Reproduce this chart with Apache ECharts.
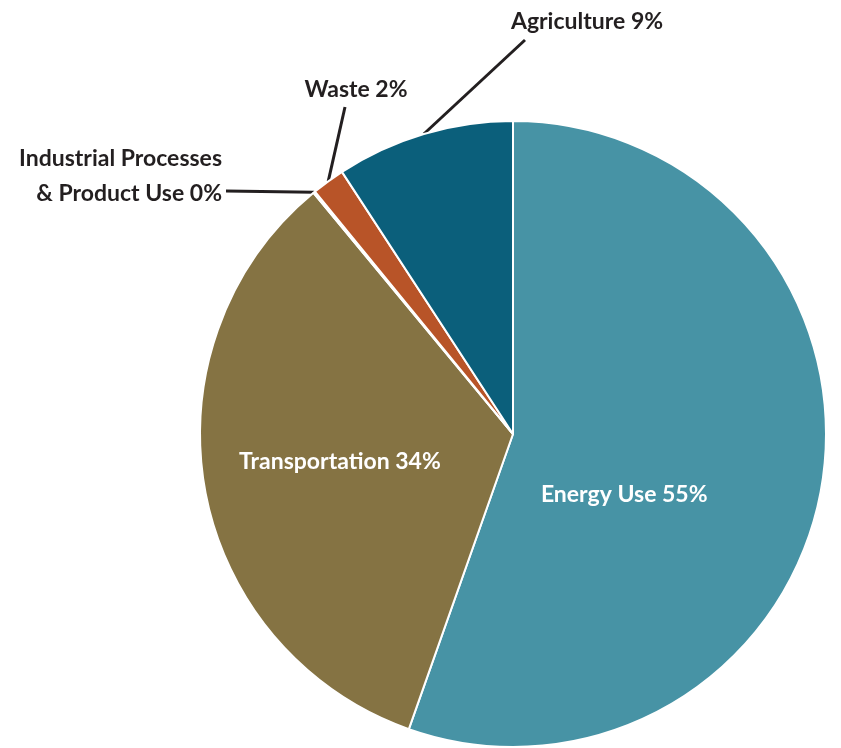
<!DOCTYPE html>
<html>
<head>
<meta charset="utf-8">
<script src="https://cdn.jsdelivr.net/npm/echarts@6/dist/echarts.min.js"></script>
<style>
  html, body { margin: 0; padding: 0; background: #fff; }
  #main { width: 841px; height: 748px; }
</style>
</head>
<body>
<div id="main"></div>
<script>
// sectors, clockwise from 12 o'clock
const categories = ['Energy Use', 'Transportation', 'Industrial Processes\n& Product Use', 'Waste', 'Agriculture'];
const shares = [55.4, 33.6, 0.1, 1.7, 9.2];
const colors = ['#4793a5', '#857343', '#f2f2f2', '#b85428', '#0b5f7b'];

const chart = echarts.init(document.getElementById('main'));

// where the labels sit (outer ones get a straight leader line)
const labelSpots = {
  'Energy Use': { dx: -46, dy: 34 },
  'Transportation': { dx: -16, dy: 0 },
  'Industrial Processes\n& Product Use': { x: 222, y: 176, align: 'right', end: [226, 191] },
  'Waste': { x: 356, y: 90, align: 'center', end: [345, 107] },
  'Agriculture': { x: 587, y: 22, align: 'center', end: [525, 40] }
};

const option = {
  animation: false,
  series: [{
    type: 'pie',
    center: [513, 434],
    radius: 313,
    startAngle: 90,
    clockwise: true,
    avoidLabelOverlap: false,
    itemStyle: { borderColor: '#fff', borderWidth: 2 },
    label: {
      fontFamily: 'Lato',
      fontWeight: 'bold',
      fontSize: 23,
      lineHeight: 35,
      formatter: p => p.name + ' ' + Math.round(p.percent) + '%'
    },
    labelLine: { lineStyle: { color: '#231f20', width: 3 } },
    data: categories.map((name, i) => {
      const inside = i < 2;
      return {
        name: name,
        value: shares[i],
        itemStyle: { color: colors[i] },
        label: inside
          ? { position: 'inner', color: '#fff' }
          : { position: 'outside', color: '#231f20' },
        labelLine: { show: !inside }
      };
    }),
    labelLayout: function (params) {
      const name = categories[params.dataIndex];
      const s = labelSpots[name];
      if (s.dx !== undefined) return { dx: s.dx, dy: s.dy };
      const pts = params.labelLinePoints;
      const start = pts ? pts[0] : s.end;
      return {
        x: s.x,
        y: s.y,
        align: s.align,
        verticalAlign: 'middle',
        labelLinePoints: [start, s.end, s.end]
      };
    }
  }]
};
chart.setOption(option);
</script>
</body>
</html>
